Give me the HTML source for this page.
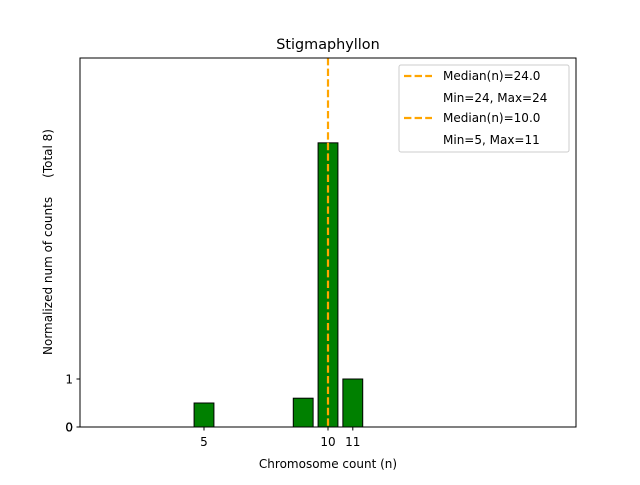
<!DOCTYPE html>
<html><head><meta charset="utf-8"><style>
body{margin:0;background:#fff;}
svg text{font-family:"DejaVu Sans","Liberation Sans",sans-serif;fill:#000;}
</style></head><body>
<svg id="chart" width="640" height="480" xmlns="http://www.w3.org/2000/svg">
<rect width="640" height="480" fill="#fff"/>
<text x="328" y="49" font-size="14.4" text-anchor="middle">Stigmaphyllon</text>
<g id="bars"></g>
<g id="ticks"></g>
<line id="med" y1="58" y2="427" stroke="#ffa500" stroke-width="2.2" stroke-dasharray="7.4,3.2"/>
<rect x="80" y="58" width="496" height="369" fill="none" stroke="#000" stroke-width="1"/>
<text x="328" y="468" font-size="12" text-anchor="middle">Chromosome count (n)</text>
<text transform="translate(52,242) rotate(-90)" font-size="12" text-anchor="middle" xml:space="preserve">Normalized num of counts     (Total 8)</text>
<g>
<rect x="399" y="65" width="170" height="87" fill="#fff" fill-opacity="0.8" stroke="#ccc" rx="2"/>
<line x1="404" y1="76" x2="432" y2="76" stroke="#ffa500" stroke-width="2.2" stroke-dasharray="7.4,3.2"/>
<text x="443" y="80" font-size="12">Median(n)=24.0</text>
<text x="443" y="102" font-size="12">Min=24, Max=24</text>
<line x1="404" y1="118" x2="432" y2="118" stroke="#ffa500" stroke-width="2.2" stroke-dasharray="7.4,3.2"/>
<text x="443" y="122" font-size="12">Median(n)=10.0</text>
<text x="443" y="144" font-size="12">Min=5, Max=11</text>
</g>
</svg>
<script>
const categories=[5,9,10,11];
const values=[0.5,0.6,5.92,1];
const xTicks=[5,10,11];
const yTicks=[0,0,0,1];
const median=10;
const ns="http://www.w3.org/2000/svg";
function xs(v){return 80+(v-0)/(20-0)*496;}
function ys(v){return 427-v*48;}
const bars=document.getElementById('bars');
categories.forEach((c,i)=>{
  const r=document.createElementNS(ns,'rect');
  
  
  r.setAttribute('x',xs(c-0.4));r.setAttribute('width',xs(c+0.4)-xs(c-0.4));
  r.setAttribute('y',ys(values[i]));r.setAttribute('height',ys(0)-ys(values[i]));
  r.setAttribute('fill','#008000');r.setAttribute('stroke','#000');r.setAttribute('stroke-width','1');
  bars.appendChild(r);
});
const tk=document.getElementById('ticks');
xTicks.forEach(t=>{
  const l=document.createElementNS(ns,'line');
  
  
  l.setAttribute('x1',xs(t));l.setAttribute('x2',xs(t));l.setAttribute('y1',427);l.setAttribute('y2',430.5);l.setAttribute('stroke','#000');
  tk.appendChild(l);
  const tx=document.createElementNS(ns,'text');
  
  
  tx.setAttribute('x',xs(t));tx.setAttribute('y',446);tx.setAttribute('font-size','12');tx.setAttribute('text-anchor','middle');
  tx.textContent=t;tk.appendChild(tx);
});
yTicks.forEach(t=>{
  const l=document.createElementNS(ns,'line');
  
  
  l.setAttribute('x1',76.5);l.setAttribute('x2',80);l.setAttribute('y1',ys(t));l.setAttribute('y2',ys(t));l.setAttribute('stroke','#000');
  tk.appendChild(l);
  const tx=document.createElementNS(ns,'text');
  
  
  tx.setAttribute('x',73);tx.setAttribute('y',ys(t)+4.5);tx.setAttribute('font-size','12');tx.setAttribute('text-anchor','end');
  tx.textContent=t;tk.appendChild(tx);
});
const m=document.getElementById('med');
m.setAttribute('x1',xs(median));m.setAttribute('x2',xs(median));
</script>
</body></html>
